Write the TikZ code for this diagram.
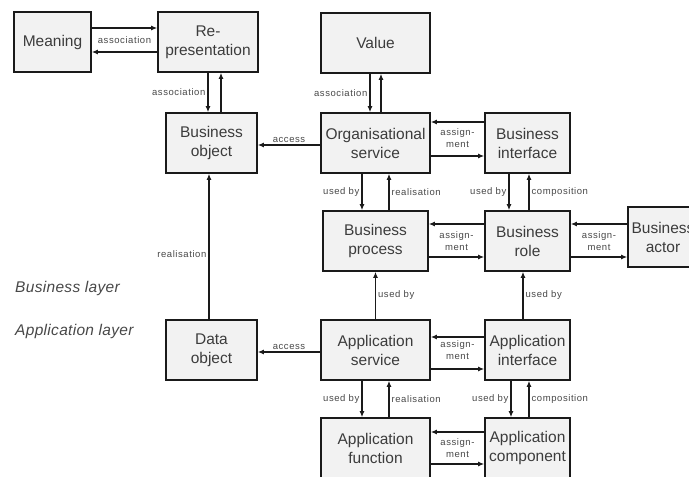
\documentclass[tikz,border=0pt]{standalone}
\usepackage{fontspec}
\setmainfont{Liberation Sans}
\newfontfamily\lblfont[LetterSpace=6]{Liberation Sans}
\newfontfamily\layerfont[LetterSpace=2]{Liberation Sans}
\usetikzlibrary{arrows.meta,calc}
\definecolor{boxfill}{HTML}{F2F2F2}
\definecolor{ink}{HTML}{1A1A1A}
\begin{document}
\begin{tikzpicture}[x=1pt,y=-1pt,
  box/.style={draw=ink, line width=1.6pt, fill=boxfill, align=center, inner sep=1pt,
    font=\fontsize{15.5}{19}\selectfont, text=ink!85, minimum height=60pt},
  arr/.style={draw=ink, line width=1.3pt, -{Latex[length=6pt,width=5pt]}},
  lbl/.style={font=\lblfont\fontsize{9.5}{12.5}\selectfont, text=ink!80, inner sep=2pt, align=center},
  layer/.style={font=\layerfont\itshape\fontsize{15.5}{19}\selectfont, text=ink!80, anchor=west, inner sep=0pt}]
\clip (0,0) rectangle (689,477);

% concepts
\node[box, minimum width=77pt]  (mean)  at (52.5,42)  {Meaning};
\node[box, minimum width=100pt] (rep)   at (208,42)   {Re-\\presentation};
\node[box, minimum width=91pt]  (bobj)  at (211.5,143) {Business\\object};
\node[box, minimum width=109pt] (val)   at (375.5,43) {Value};
\node[box, minimum width=109pt] (osrv)  at (375.5,143) {Organisational\\service};
\node[box, minimum width=85pt]  (bint)  at (527.5,143) {Business\\interface};
\node[box, minimum width=105pt] (bproc) at (375.5,241) {Business\\process};
\node[box, minimum width=85pt]  (brole) at (527.5,241) {Business\\role};
\node[box, minimum width=70pt]  (bact)  at (663,237)  {Business\\actor};
\node[box, minimum width=91pt]  (dobj)  at (211.5,350) {Data\\object};
\node[box, minimum width=109pt] (asrv)  at (375.5,350) {Application\\service};
\node[box, minimum width=85pt]  (aint)  at (527.5,350) {Application\\interface};
\node[box, minimum width=109pt] (afun)  at (375.5,448) {Application\\function};
\node[box, minimum width=85pt]  (acomp) at (527.5,448) {Application\\component};

% layer captions
\node[layer] (lay-b) at (15,288) {Business layer};
\node[layer] (lay-a) at (15,331) {Application layer};

% meaning / representation
\draw[arr] ([yshift=14pt]mean.east) -- ([yshift=14pt]mean.east -| rep.west);
\draw[arr] ([yshift=-10pt]rep.west) -- ([yshift=-10pt]rep.west -| mean.east);
\node[lbl] (l-mr) at ($(mean.east)!0.5!(rep.west)+(0,-2)$) {association};

% representation / business object
\draw[arr] (rep.south) -- node[lbl,left] {association} (rep.south |- bobj.north);
\draw[arr] ([xshift=13pt]rep.south |- bobj.north) -- ([xshift=13pt]rep.south);

% value / organisational service
\draw[arr] ([xshift=-5.5pt]val.south) -- node[lbl,left] {association} ([xshift=-5.5pt]osrv.north);
\draw[arr] ([xshift=5.5pt]osrv.north) -- ([xshift=5.5pt]val.south);

% access to business object
\draw[arr] ([yshift=-2pt]osrv.west) -- node[lbl,above] {access} ([yshift=-2pt]osrv.west -| bobj.east);

% business interface / organisational service
\draw[arr] ([yshift=21pt]bint.west) -- ([yshift=21pt]bint.west -| osrv.east);
\draw[arr] ([yshift=-13pt]osrv.east) -- ([yshift=-13pt]osrv.east -| bint.west);
\node[lbl] (l-as1) at ($(osrv.east)!0.5!(bint.west)+(0,-5)$) {assign-\\ment};

% organisational service / business process
\draw[arr] ([xshift=-13.5pt]osrv.south) -- node[lbl,left] {used by} ([xshift=-13.5pt]bproc.north);
\draw[arr] ([xshift=13.5pt]bproc.north) -- node[lbl,right] {realisation} ([xshift=13.5pt]osrv.south);

% business interface / business role
\draw[arr] ([xshift=-18.5pt]bint.south) -- node[lbl,left] {used by} ([xshift=-18.5pt]brole.north);
\draw[arr] ([xshift=1.5pt]brole.north) -- node[lbl,right] {composition} ([xshift=1.5pt]bint.south);

% business role / business process
\draw[arr] ([yshift=17pt]brole.west) -- ([yshift=17pt]brole.west -| bproc.east);
\draw[arr] ([yshift=-16pt]bproc.east) -- ([yshift=-16pt]bproc.east -| brole.west);
\node[lbl] (l-as2) at ($(bproc.east)!0.5!(brole.west)$) {assign-\\ment};

% business actor / business role
\draw[arr] ([yshift=17pt]brole.east -| bact.west) -- ([yshift=17pt]brole.east);
\draw[arr] ([yshift=-16pt]brole.east) -- ([yshift=-16pt]brole.east -| bact.west);
\node[lbl] (l-as3) at ($(brole.east)!0.5!(bact.west |- brole.east)$) {assign-\\ment};

% application layer used by business layer
\draw[arr] (asrv.north) -- node[lbl,right] {used by} (bproc.south);
\draw[arr] ([xshift=-4.5pt]aint.north) -- node[lbl,right] {used by} ([xshift=-4.5pt]brole.south);

% data object realises business object
\draw[arr] ([xshift=-2.5pt]dobj.north) -- node[lbl,left,pos=0.45] {realisation} ([xshift=-2.5pt]bobj.south);

% access to data object
\draw[arr] ([yshift=-2pt]asrv.west) -- node[lbl,above] {access} ([yshift=-2pt]asrv.west -| dobj.east);

% application interface / application service
\draw[arr] ([yshift=13pt]aint.west) -- ([yshift=13pt]aint.west -| asrv.east);
\draw[arr] ([yshift=-19pt]asrv.east) -- ([yshift=-19pt]asrv.east -| aint.west);
\node[lbl] (l-as4) at ($(asrv.east)!0.5!(aint.west)$) {assign-\\ment};

% application service / application function
\draw[arr] ([xshift=-13.5pt]asrv.south) -- node[lbl,left] {used by} ([xshift=-13.5pt]afun.north);
\draw[arr] ([xshift=13.5pt]afun.north) -- node[lbl,right] {realisation} ([xshift=13.5pt]asrv.south);

% application interface / application component
\draw[arr] ([xshift=-16.5pt]aint.south) -- node[lbl,left] {used by} ([xshift=-16.5pt]acomp.north);
\draw[arr] ([xshift=1.5pt]acomp.north) -- node[lbl,right] {composition} ([xshift=1.5pt]aint.south);

% application component / application function
\draw[arr] ([yshift=16pt]acomp.west) -- ([yshift=16pt]acomp.west -| afun.east);
\draw[arr] ([yshift=-16pt]afun.east) -- ([yshift=-16pt]afun.east -| acomp.west);
\node[lbl] (l-as5) at ($(afun.east)!0.5!(acomp.west)$) {assign-\\ment};
\end{tikzpicture}
\end{document}
